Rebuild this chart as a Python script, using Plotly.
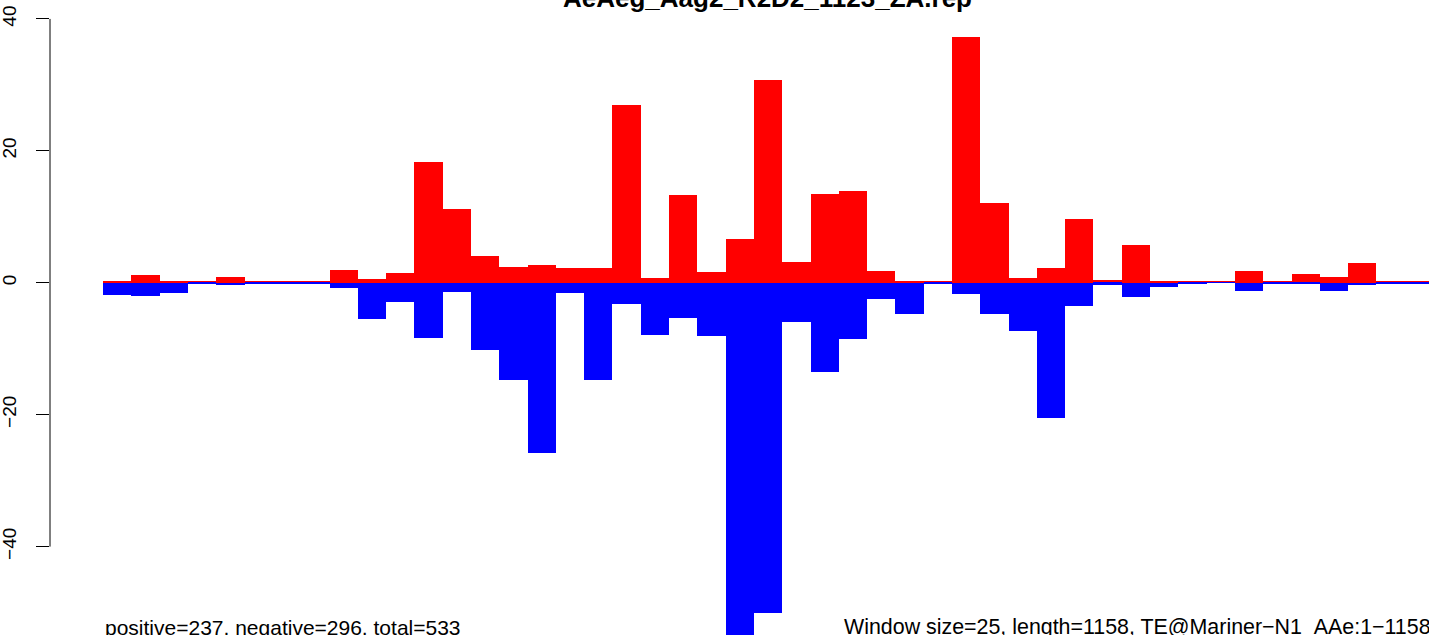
import plotly.graph_objects as go

# ---- data ----
title_text = "AeAeg_Aag2_R2D2_1123_ZA.rep"
left_note = "positive=237, negative=296, total=533"
right_note = "Window size=25, length=1158, TE@Mariner\u2212N1_AAe:1\u22121158"

bins = list(range(47))
positive = [0.27, 1.18, 0.27, 0.12, 0.88, 0.12, 0.12, 0.27, 1.94, 0.58,
            1.48, 18.3, 11.15, 4.06, 2.39, 2.7, 2.24, 2.24, 26.9, 0.73,
            13.3, 1.64, 6.64, 30.7, 3.15, 13.46, 13.9, 1.79, 0.12, 0.27,
            37.26, 12.1, 0.73, 2.24, 9.67, 0.42, 5.73, 0.15, 0.15, 0.15,
            1.79, 0.15, 1.33, 0.88, 3.0, 0.15, 0.15]
negative = [-1.85, -2.0, -1.55, -0.2, -0.33, -0.04, -0.04, -0.04, -0.79, -5.48,
            -2.9, -8.4, -1.4, -10.2, -14.7, -25.8, -1.55, -14.7, -3.2, -7.9,
            -5.3, -8.1, -56.0, -50.0, -5.9, -13.6, -8.5, -2.45, -4.7, -0.08,
            -1.7, -4.7, -7.3, -20.5, -3.5, -0.3, -2.15, -0.64, -0.04, -0.03,
            -1.24, -0.04, -0.04, -1.24, -0.33, -0.04, -0.04]
y_ticks = [-40, -20, 0, 20, 40]

centers = [b + 0.5 for b in bins]

fig = go.Figure()
fig.add_trace(go.Bar(x=centers, y=positive, width=1.0,
                     marker=dict(color="#FF0000", line=dict(width=0)),
                     showlegend=False, hoverinfo="skip"))
fig.add_trace(go.Bar(x=centers, y=negative, width=1.0,
                     marker=dict(color="#0000FF", line=dict(width=0)),
                     showlegend=False, hoverinfo="skip"))

W, H = 1429, 635
L = 50
x0, x1 = -1.88, 46.86
pxu = (W - L) / (x1 - x0)


def xpaper(v):
    return (v - x0) * pxu / (W - L)


fig.update_layout(
    width=W, height=H,
    margin=dict(l=L, r=0, t=0, b=0),
    paper_bgcolor="white", plot_bgcolor="white",
    barmode="overlay", bargap=0,
    font=dict(family="Liberation Sans", color="black"),
    xaxis=dict(range=[x0, x1], showticklabels=False, showgrid=False,
               zeroline=False, showline=False, ticks=""),
    yaxis=dict(range=[-53.40, 42.87], tickvals=y_ticks,
               ticktext=[str(v).replace("-", "\u2212") for v in y_ticks],
               showgrid=False, zeroline=False, showline=False,
               ticks="outside", ticklen=13, tickwidth=1, tickcolor="black",
               tickangle=-90, ticklabelstandoff=12,
               tickfont=dict(size=19, family="Liberation Sans", color="black")),
    shapes=[dict(type="line", xref="paper", yref="y", x0=0, x1=0,
                 y0=y_ticks[0], y1=y_ticks[-1],
                 line=dict(color="black", width=1))],
    annotations=[
        dict(text="<b>" + title_text + "</b>", xref="paper", yref="paper",
             x=(767 - L) / (W - L), y=1 + 2 / H, xanchor="center",
             yanchor="middle", showarrow=False,
             font=dict(size=26, family="Liberation Sans", color="black")),
        dict(text=left_note, xref="paper", yref="paper", x=xpaper(0),
             y=1 - 627 / H, xanchor="left", yanchor="middle", showarrow=False,
             font=dict(size=21, family="Liberation Sans", color="black")),
        dict(text=right_note, xref="paper", yref="paper", x=xpaper(47),
             y=1 - 627 / H, xanchor="right", yanchor="middle", showarrow=False,
             font=dict(size=21.4, family="Liberation Sans", color="black")),
    ],
)

fig.write_html("out.html", config={"displayModeBar": False},
               post_script="document.body.style.margin='0';document.body.style.overflow='hidden';")
